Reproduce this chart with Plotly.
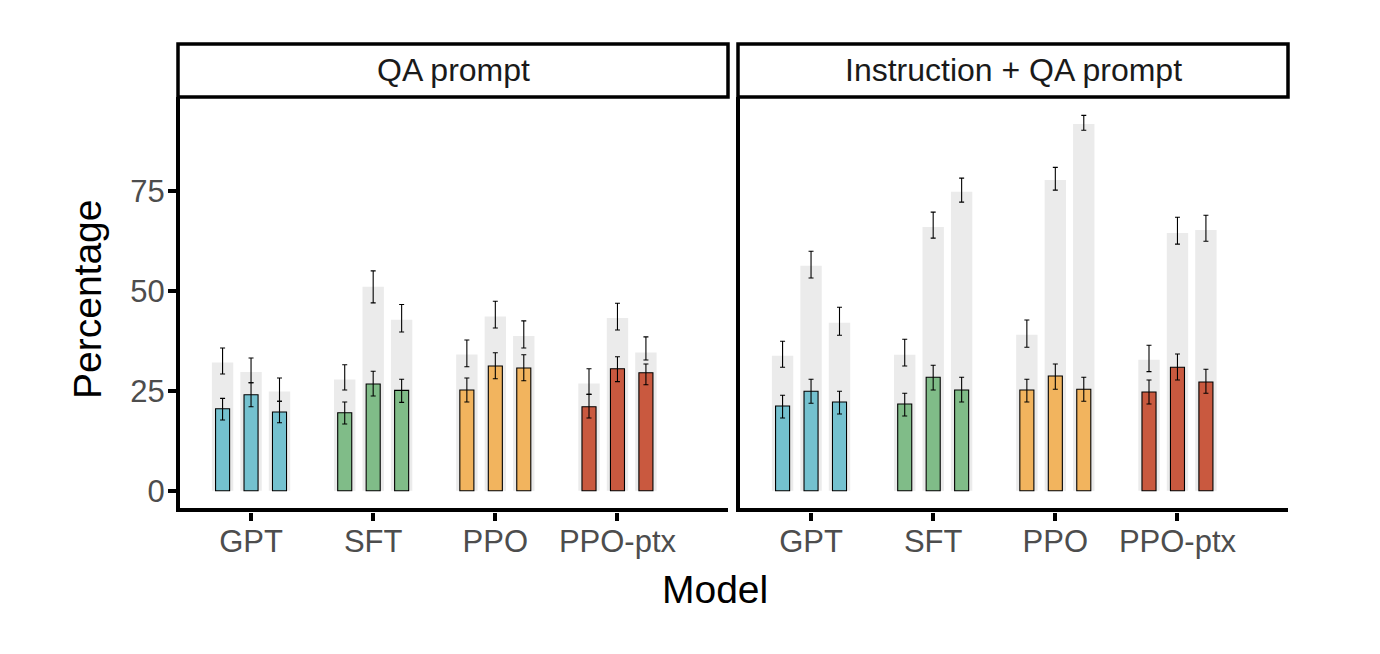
import plotly.graph_objects as go

W, H = 1380, 654

models = ["GPT", "SFT", "PPO", "PPO-ptx"]
facets = ["QA prompt", "Instruction + QA prompt"]
model_colors = ["#74C1CF", "#80BC88", "#F2B45E", "#C9593F"]
grey_color = "#EBEBEB"
y_ticks = [0, 25, 50, 75]

# ---- QA prompt: coloured bars (per model, 3 model sizes) ----
qa_col_mean = {"GPT": [20.5, 24.0, 19.7], "SFT": [19.5, 26.7, 25.1],
               "PPO": [25.2, 31.2, 30.7], "PPO-ptx": [21.0, 30.5, 29.5]}
qa_col_lo = {"GPT": [17.7, 21.0, 17.0], "SFT": [16.7, 23.7, 22.1],
             "PPO": [22.2, 28.0, 27.5], "PPO-ptx": [18.2, 27.3, 26.5]}
qa_col_hi = {"GPT": [23.1, 27.0, 22.4], "SFT": [22.2, 29.9, 27.9],
             "PPO": [28.2, 34.5, 34.0], "PPO-ptx": [24.1, 33.5, 31.7]}
# ---- QA prompt: grey bars ----
qa_grey_mean = {"GPT": [32.1, 29.7, 24.8], "SFT": [27.8, 51.0, 42.8],
                "PPO": [34.1, 43.6, 38.7], "PPO-ptx": [26.8, 43.2, 34.6]}
qa_grey_lo = {"GPT": [29.2, 27.0, 22.4], "SFT": [25.2, 47.0, 39.7],
              "PPO": [31.0, 40.7, 35.7], "PPO-ptx": [24.1, 40.2, 32.7]}
qa_grey_hi = {"GPT": [35.7, 33.2, 28.2], "SFT": [31.5, 55.0, 46.6],
              "PPO": [37.7, 47.4, 42.5], "PPO-ptx": [30.5, 46.9, 38.5]}

# ---- Instruction + QA prompt: coloured bars ----
iqa_col_mean = {"GPT": [21.2, 24.9, 22.2], "SFT": [21.7, 28.4, 25.2],
                "PPO": [25.2, 28.7, 25.4], "PPO-ptx": [24.7, 30.9, 27.2]}
iqa_col_lo = {"GPT": [18.2, 21.9, 19.2], "SFT": [18.7, 25.2, 22.2],
              "PPO": [22.2, 25.4, 22.4], "PPO-ptx": [21.7, 27.7, 24.4]}
iqa_col_hi = {"GPT": [23.9, 27.9, 24.9], "SFT": [24.4, 31.4, 28.4],
              "PPO": [27.9, 31.7, 28.4], "PPO-ptx": [27.7, 34.2, 30.4]}
# ---- Instruction + QA prompt: grey bars ----
iqa_grey_mean = {"GPT": [33.75, 56.3, 42.0], "SFT": [34.0, 66.0, 74.8],
                 "PPO": [39.0, 77.75, 91.75], "PPO-ptx": [32.75, 64.5, 65.25]}
iqa_grey_lo = {"GPT": [30.9, 53.2, 38.9], "SFT": [31.2, 63.2, 72.2],
               "PPO": [35.9, 75.2, 90.2], "PPO-ptx": [29.8, 61.7, 62.4]}
iqa_grey_hi = {"GPT": [37.4, 59.9, 45.9], "SFT": [37.9, 69.7, 78.2],
               "PPO": [42.7, 80.9, 93.9], "PPO-ptx": [36.4, 68.4, 68.9]}

panels = [
    (qa_col_mean, qa_col_lo, qa_col_hi, qa_grey_mean, qa_grey_lo, qa_grey_hi),
    (iqa_col_mean, iqa_col_lo, iqa_col_hi, iqa_grey_mean, iqa_grey_lo, iqa_grey_hi),
]

dodge = 0.233
grey_w = 0.175
col_w = 0.115
n_sizes = 3

def px_x(p):
    return p / W

def px_y(p):
    return 1 - p / H

fig = go.Figure()

for pi, (cm, clo, chi, gm, glo, ghi) in enumerate(panels):
    xa = "x" if pi == 0 else "x2"
    ya = "y" if pi == 0 else "y2"
    for s in range(n_sizes):
        off = (s - (n_sizes - 1) / 2) * dodge
        gy = [gm[m][s] for m in models]
        fig.add_trace(go.Bar(
            x=models, y=gy, xaxis=xa, yaxis=ya,
            width=grey_w, offset=off - grey_w / 2,
            marker=dict(color=grey_color, line=dict(width=0)),
            error_y=dict(type="data", symmetric=False,
                         array=[ghi[m][s] - gm[m][s] for m in models],
                         arrayminus=[gm[m][s] - glo[m][s] for m in models],
                         color="black", thickness=1.1, width=2.5),
            showlegend=False, hoverinfo="skip"))
    for s in range(n_sizes):
        off = (s - (n_sizes - 1) / 2) * dodge
        cy = [cm[m][s] for m in models]
        fig.add_trace(go.Bar(
            x=models, y=cy, xaxis=xa, yaxis=ya,
            width=col_w, offset=off - col_w / 2,
            marker=dict(color=model_colors, line=dict(color="black", width=1.1)),
            error_y=dict(type="data", symmetric=False,
                         array=[chi[m][s] - cm[m][s] for m in models],
                         arrayminus=[cm[m][s] - clo[m][s] for m in models],
                         color="black", thickness=1.1, width=2.5),
            showlegend=False, hoverinfo="skip"))

LW = 4.4
FAM = "Liberation Sans, Arial, Helvetica, sans-serif"
tick_font = dict(family=FAM, size=31, color="#4D4D4D")
title_font = dict(family=FAM, size=39, color="black")
strip_font = dict(family=FAM, size=32, color="#1A1A1A")

p1 = (178, 728)
p2 = (738, 1288)
top_px, bot_px = 97, 510.5
ydom = [px_y(bot_px - LW / 2), px_y(top_px)]

common_x = dict(type="category", range=[-0.58, 3.905], showgrid=False, zeroline=False,
                showline=True, linecolor="black", linewidth=LW,
                ticks="outside", ticklen=8, tickwidth=3.5, tickcolor="black",
                tickfont=tick_font, ticklabelstandoff=-6, fixedrange=True)
common_y = dict(range=[-4.4, 98.5], showgrid=False, zeroline=False,
                showline=True, linecolor="black", linewidth=LW,
                tickvals=y_ticks, fixedrange=True)

fig.update_layout(
    width=W, height=H,
    margin=dict(l=0, r=0, t=0, b=0),
    paper_bgcolor="white", plot_bgcolor="white",
    barmode="overlay",
    xaxis=dict(domain=[px_x(p1[0] + LW / 2), px_x(p1[1])], anchor="y", **common_x),
    xaxis2=dict(domain=[px_x(p2[0] + LW / 2), px_x(p2[1])], anchor="y2", **common_x),
    yaxis=dict(domain=ydom, anchor="x", ticks="outside", ticklen=8, tickwidth=3.5,
               tickcolor="black", tickfont=tick_font, ticklabelstandoff=-3, **common_y),
    yaxis2=dict(domain=ydom, anchor="x2", ticks="", showticklabels=False, **common_y),
)

shapes = []
annotations = []
strip_top, strip_bot = 44, 97
for (x0, x1), label in zip([p1, p2], facets):
    shapes.append(dict(type="rect", xref="paper", yref="paper",
                       x0=px_x(x0), x1=px_x(x1), y0=px_y(strip_bot), y1=px_y(strip_top),
                       line=dict(color="black", width=3.5), fillcolor="white", layer="above"))
    annotations.append(dict(text=label, xref="paper", yref="paper",
                            x=px_x((x0 + x1) / 2), y=px_y((strip_top + strip_bot) / 2),
                            xanchor="center", yanchor="middle", showarrow=False, font=strip_font))

annotations.append(dict(text="Percentage", xref="paper", yref="paper",
                        x=px_x(87), y=px_y(300), textangle=-90,
                        xanchor="center", yanchor="middle", showarrow=False, font=title_font))
annotations.append(dict(text="Model", xref="paper", yref="paper",
                        x=px_x(715), y=px_y(589),
                        xanchor="center", yanchor="middle", showarrow=False, font=title_font))

fig.update_layout(shapes=shapes, annotations=annotations)

fig.write_html("out.html", config={"displayModeBar": False},
               post_script="document.body.style.margin='0px';")
